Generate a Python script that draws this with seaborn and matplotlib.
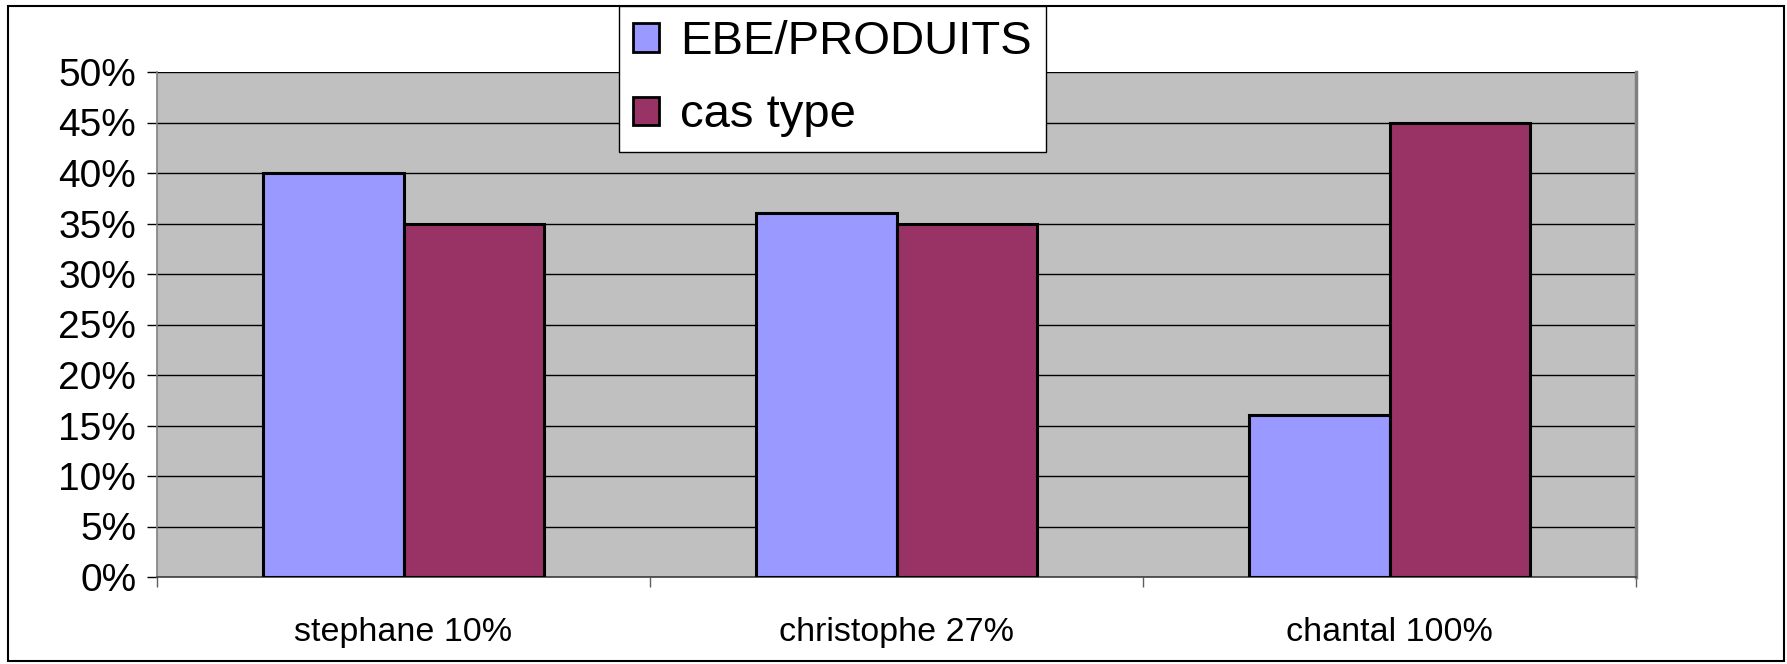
import matplotlib.pyplot as plt
import matplotlib.patches as mpatches
from matplotlib.ticker import FixedLocator, FuncFormatter
import numpy as np
import pandas as pd
import seaborn as sns

# données du graphique
categories = ['stephane 10%', 'christophe 27%', 'chantal 100%']
series = ['EBE/PRODUITS', 'cas type']
ebe_produits = [40, 36, 16]
cas_type = [35, 35, 45]
couleurs = ['#9999FF', '#993366']

df = pd.DataFrame({
    'categorie': categories * 2,
    'serie': [series[0]] * 3 + [series[1]] * 3,
    'valeur': ebe_produits + cas_type,
})

sns.set_style('white')
plt.rcParams['font.family'] = ['Liberation Sans', 'DejaVu Sans']
plt.rcParams['text.color'] = 'black'
plt.rcParams['xtick.color'] = 'black'
plt.rcParams['ytick.color'] = 'black'

fig = plt.figure(figsize=(17.87, 6.64), dpi=100)
ax = fig.add_axes([157 / 1787, 1 - 577 / 664, (1636 - 157) / 1787, (577 - 72) / 664])
ax.set_facecolor('#C0C0C0')

sns.barplot(data=df, x='categorie', y='valeur', hue='serie', palette=couleurs,
            saturation=1, width=0.57, edgecolor='black', linewidth=2.2, ax=ax, zorder=3)

ax.set_xlim(-0.5, 2.5)
ax.set_ylim(0, 50)
ax.set_yticks(np.arange(0, 51, 5))
ax.yaxis.set_major_formatter(FuncFormatter(lambda v, p: f'{int(v)}%'))
ax.grid(axis='y', color='black', linewidth=1.0, zorder=1)
ax.set_axisbelow(True)
ax.set_xlabel('')
ax.set_ylabel('')

# graduations
ax.tick_params(axis='y', which='major', length=7, width=1, color='black',
               labelsize=28, pad=8, direction='out', left=True)
ax.tick_params(axis='x', which='major', length=0, labelsize=24.5, pad=29)
ax.xaxis.set_minor_locator(FixedLocator([-0.5, 0.5, 1.5, 2.5]))
ax.tick_params(axis='x', which='minor', length=7, width=1, color='#606060',
               direction='out', bottom=True)

ax.spines['top'].set_visible(False)
ax.spines['left'].set_color('#808080')
ax.spines['left'].set_linewidth(1.2)
ax.spines['right'].set_color('#808080')
ax.spines['right'].set_linewidth(2.5)
ax.spines['bottom'].set_color('#404040')
ax.spines['bottom'].set_linewidth(1.2)

# légende
ax.legend_.remove()
handles = [mpatches.Patch(facecolor=c, edgecolor='black', linewidth=2) for c in couleurs]
leg = fig.legend(handles, series, loc='upper left',
                 bbox_to_anchor=(619 / 1787, 1 - 6 / 664), fontsize=34,
                 frameon=True, fancybox=False, edgecolor='black', facecolor='white',
                 framealpha=1, handlelength=0.55, handleheight=0.55, handletextpad=0.45,
                 labelspacing=0.62, borderpad=0.3, borderaxespad=0)
leg.get_frame().set_linewidth(1.0)

# cadre extérieur
fig.patches.append(mpatches.Rectangle((8 / 1787, 3 / 664), 1776 / 1787, 655 / 664,
                                      transform=fig.transFigure, fill=False,
                                      edgecolor='black', linewidth=1.5, zorder=0))

fig.savefig('out.png', dpi=100)
